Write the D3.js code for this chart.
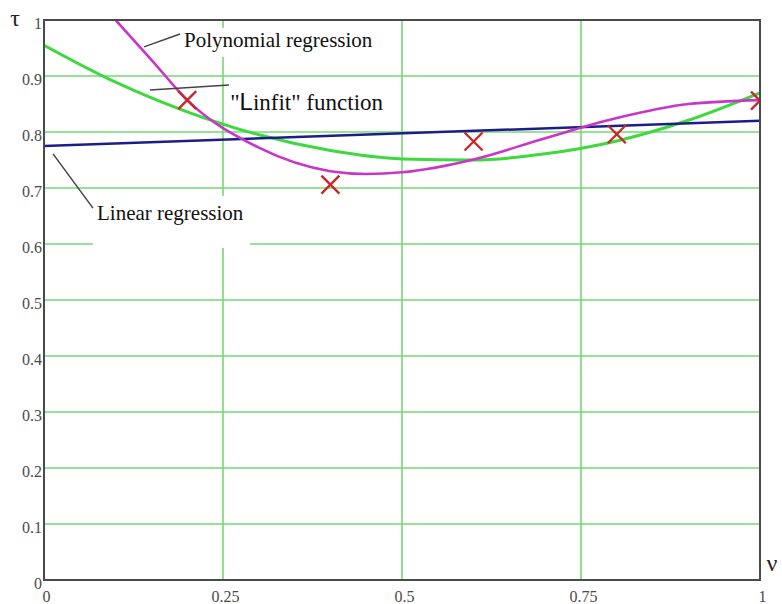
<!DOCTYPE html>
<html>
<head>
<meta charset="utf-8">
<script src="https://cdn.jsdelivr.net/npm/d3@7.9.0/dist/d3.min.js"></script>
<style>
  body { margin: 0; background: #fff; }
  svg { display: block; }
</style>
</head>
<body>
<div id="chart"></div>
<script>
// axis ticks
const xTicks = [0, 0.25, 0.5, 0.75, 1];
const xTickLabels = ['0', '0.25', '0.5', '0.75', '1'];
const yTicks = [0, 0.1, 0.2, 0.3, 0.4, 0.5, 0.6, 0.7, 0.8, 0.9, 1];
const yTickLabels = ['0', '0.1', '0.2', '0.3', '0.4', '0.5', '0.6', '0.7', '0.8', '0.9', '1'];

// linear regression (blue)
const linearNu = [0, 1];
const linearTau = [0.775, 0.82];

// "Linfit" function (green)
const linfitNu = [0, 0.1, 0.2, 0.3, 0.4, 0.5, 0.6, 0.7, 0.8, 0.9, 1];
const linfitTau = [0.955, 0.889, 0.836, 0.795, 0.767, 0.752, 0.75, 0.761, 0.784, 0.821, 0.87];

// polynomial regression (magenta)
const polyNu = [0.1, 0.15, 0.2, 0.3, 0.4, 0.45, 0.5, 0.6, 0.7, 0.8, 0.9, 1];
const polyTau = [1.0, 0.929, 0.857, 0.772, 0.73, 0.725, 0.728, 0.751, 0.789, 0.825, 0.85, 0.857];

// measured points (red crosses)
const measNu = [0.2, 0.4, 0.6, 0.8, 1];
const measTau = [0.857, 0.706, 0.783, 0.796, 0.856];

const width = 782;
const height = 604;
const margin = { top: 20, right: 22, bottom: 24, left: 44 };

const svg = d3.select('#chart')
  .append('svg')
  .attr('width', width)
  .attr('height', height);

const x = d3.scaleLinear().domain([0, 1]).range([margin.left, width - margin.right]);
const y = d3.scaleLinear().domain([0, 1]).range([height - margin.bottom, margin.top]);

svg.append('defs').append('clipPath').attr('id', 'plot-clip')
  .append('rect')
  .attr('x', x(0)).attr('y', y(1))
  .attr('width', x(1) - x(0)).attr('height', y(0) - y(1));

// gridlines
const grid = svg.append('g').attr('stroke', '#74d874').attr('stroke-width', 1.6);
grid.selectAll('line.v')
  .data(xTicks.filter(d => d > 0 && d < 1))
  .join('line')
  .attr('class', 'v')
  .attr('x1', d => x(d)).attr('x2', d => x(d))
  .attr('y1', y(0)).attr('y2', y(1));
grid.selectAll('line.h')
  .data(yTicks.filter(d => d > 0 && d < 1))
  .join('line')
  .attr('class', 'h')
  .attr('x1', x(0)).attr('x2', x(1))
  .attr('y1', d => y(d)).attr('y2', d => y(d));

// white boxes behind two of the labels
const boxes = [
  { x0: 0.19, x1: 0.4874, y0: 0.986, y1: 0.934 },
  { x0: 0.0684, x1: 0.2877, y0: 0.686, y1: 0.593 }
];
svg.append('g').selectAll('rect')
  .data(boxes)
  .join('rect')
  .attr('x', d => x(d.x0)).attr('y', d => y(d.y0))
  .attr('width', d => x(d.x1) - x(d.x0))
  .attr('height', d => y(d.y1) - y(d.y0))
  .attr('fill', '#fff');

// curves
const plot = svg.append('g').attr('clip-path', 'url(#plot-clip)');
const line = d3.line().x(d => x(d[0])).y(d => y(d[1])).curve(d3.curveMonotoneX);

plot.append('path')
  .datum(d3.zip(linfitNu, linfitTau))
  .attr('d', line)
  .attr('fill', 'none')
  .attr('stroke', '#3fd83f')
  .attr('stroke-width', 3);

plot.append('path')
  .datum(d3.zip(linearNu, linearTau))
  .attr('d', line)
  .attr('fill', 'none')
  .attr('stroke', '#1c1c8a')
  .attr('stroke-width', 2.5);

plot.append('path')
  .datum(d3.zip(polyNu, polyTau))
  .attr('d', line)
  .attr('fill', 'none')
  .attr('stroke', '#c935c9')
  .attr('stroke-width', 2.6);

// red crosses
const arm = 9;
const crosses = plot.append('g')
  .attr('stroke', '#c8282a')
  .attr('stroke-width', 2.4)
  .selectAll('g')
  .data(d3.zip(measNu, measTau))
  .join('g')
  .attr('transform', d => `translate(${x(d[0])},${y(d[1])})`);
crosses.append('line').attr('x1', -arm).attr('y1', -arm).attr('x2', arm).attr('y2', arm);
crosses.append('line').attr('x1', -arm).attr('y1', arm).attr('x2', arm).attr('y2', -arm);

// frame
svg.append('rect')
  .attr('x', x(0)).attr('y', y(1))
  .attr('width', x(1) - x(0)).attr('height', y(0) - y(1))
  .attr('fill', 'none')
  .attr('stroke', '#4a4a4a')
  .attr('stroke-width', 2);

// axes (labels only)
const xAxis = svg.append('g')
  .attr('transform', `translate(2,${y(0)})`)
  .call(d3.axisBottom(x).tickValues(xTicks).tickFormat((d, i) => xTickLabels[i]).tickSize(0));
xAxis.select('.domain').remove();
xAxis.selectAll('text')
  .attr('y', 22).attr('dy', null)
  .attr('font-family', '"Liberation Serif", "Times New Roman", serif')
  .attr('font-size', 16)
  .attr('fill', '#4a4a4a');

const yAxis = svg.append('g')
  .attr('transform', `translate(${x(0)},3)`)
  .call(d3.axisLeft(y).tickValues(yTicks).tickFormat((d, i) => yTickLabels[i]).tickSize(0).tickPadding(2));
yAxis.select('.domain').remove();
yAxis.selectAll('text')
  .attr('font-family', '"Liberation Serif", "Times New Roman", serif')
  .attr('font-size', 16)
  .attr('fill', '#4a4a4a');

// axis names
svg.append('text')
  .attr('x', 15).attr('y', 26)
  .attr('text-anchor', 'middle')
  .attr('font-family', '"Liberation Serif", serif')
  .attr('font-size', 24)
  .attr('fill', '#222')
  .text('τ');
svg.append('text')
  .attr('x', x(1) + 12).attr('y', y(0) - 9)
  .attr('text-anchor', 'middle')
  .attr('font-family', '"Liberation Serif", serif')
  .attr('font-size', 24)
  .attr('fill', '#222')
  .text('ν');

// annotations: leader lines and labels
const leaders = [
  { a: [0.1397, 0.952], b: [0.19, 0.975] },
  { a: [0.148, 0.875], b: [0.2584, 0.884] },
  { a: [0.0126, 0.761], b: [0.0684, 0.664] }
];
svg.append('g')
  .attr('stroke', '#444')
  .attr('stroke-width', 1.5)
  .selectAll('line')
  .data(leaders)
  .join('line')
  .attr('x1', d => x(d.a[0])).attr('y1', d => y(d.a[1]))
  .attr('x2', d => x(d.b[0])).attr('y2', d => y(d.b[1]));

svg.append('text')
  .attr('x', x(0.1955)).attr('y', y(0.952))
  .attr('font-family', '"Liberation Serif", "Times New Roman", serif')
  .attr('font-size', 21)
  .attr('fill', '#111')
  .text('Polynomial regression');

svg.append('text')
  .attr('x', x(0.074)).attr('y', y(0.643))
  .attr('font-family', '"Liberation Serif", "Times New Roman", serif')
  .attr('font-size', 21)
  .attr('fill', '#111')
  .text('Linear regression');

const linfitLabel = svg.append('text')
  .attr('x', x(0.26)).attr('y', y(0.839))
  .attr('font-family', '"Liberation Serif", "Times New Roman", serif')
  .attr('font-size', 23)
  .attr('fill', '#111');
linfitLabel.append('tspan').text('"');
linfitLabel.append('tspan').attr('font-family', '"Liberation Sans", Arial, sans-serif').attr('font-size', 24).text('L');
linfitLabel.append('tspan').text('infit" function');
</script>
</body>
</html>
